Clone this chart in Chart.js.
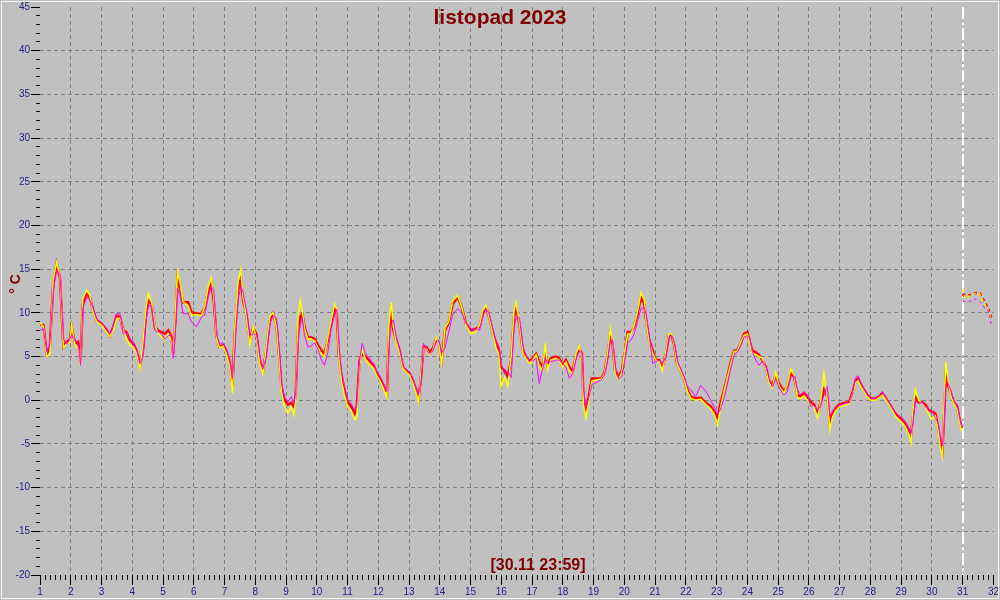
<!DOCTYPE html>
<html>
<head>
<meta charset="utf-8">
<script src="https://cdn.jsdelivr.net/npm/chart.js@4.4.1/dist/chart.umd.min.js"></script>
<style>
  body { margin: 0; background: #c0c0c0; }
  #wrap { position: relative; width: 1000px; height: 600px; background: #c0c0c0; overflow: hidden; }
  #frame { position: absolute; left: 1px; top: 1px; width: 996px; height: 596px; border: 1px solid #f4f4f4; pointer-events: none; }
  .lbl { position: absolute; color: #800000; font-family: "Liberation Sans", Arial, sans-serif; font-weight: bold; white-space: nowrap; }
  #title { left: 0; top: 6px; width: 1000px; text-align: center; font-size: 21px; line-height: 21px; }
  #unit { left: -5px; top: 276px; width: 40px; height: 16px; text-align: center; font-size: 14px; line-height: 16px; transform: rotate(-90deg); }
  #stamp { left: 438px; top: 557px; width: 200px; text-align: center; font-size: 16px; line-height: 16px; }
</style>
</head>
<body>
<div id="wrap">
  <canvas id="tempChart" width="1000" height="600"></canvas>
  <div id="frame"></div>
  <div class="lbl" id="title">listopad 2023</div>
  <div class="lbl" id="unit">° C</div>
  <div class="lbl" id="stamp">[30.11 23:59]</div>
</div>
<script>
// --- data: day of month, three sensors (red / yellow / magenta) ---
const days = [
  1.00,1.11,1.22,1.32,1.43,1.54,1.65,1.76,1.87,1.97,
  2.03,2.14,2.24,2.32,2.39,2.52,2.62,2.73,2.84,3.00,
  3.17,3.27,3.38,3.49,3.60,3.71,3.81,3.92,4.03,4.14,
  4.25,4.35,4.44,4.52,4.63,4.73,4.84,4.95,5.06,5.17,
  5.28,5.33,5.41,5.47,5.55,5.65,5.82,5.92,6.09,6.25,
  6.36,6.47,6.57,6.65,6.74,6.84,6.95,7.06,7.17,7.26,
  7.33,7.44,7.53,7.60,7.71,7.82,7.93,8.04,8.14,8.25,
  8.36,8.47,8.58,8.69,8.79,
  8.85,8.95,9.06,9.17,9.25,9.31,9.39,9.46,9.53,9.60,
  9.71,9.82,9.93,10.04,10.15,10.25,10.36,10.47,10.58,10.65,
  10.72,10.80,10.90,11.01,11.12,11.23,11.30,11.39,11.47,11.58,
  11.69,11.85,11.95,12.06,12.17,12.28,12.34,12.42,12.49,12.58,
  12.69,12.80,12.91,13.01,13.12,13.23,13.31,13.39,13.47,13.56,
  13.66,13.77,13.88,13.97,14.06,14.17,14.29,14.42,14.58,14.72,
  14.85,15.01,15.17,15.29,15.39,15.50,15.61,15.72,15.83,15.92,
  15.99,16.10,16.21,16.32,16.41,16.48,16.59,16.70,16.80,16.91,
  17.02,17.13,17.23,17.34,17.43,17.50,17.61,17.77,17.88,17.99,
  18.10,18.21,18.32,18.42,18.53,18.62,18.67,18.75,18.84,18.94,
  19.07,19.24,19.35,19.45,19.54,19.61,19.70,19.81,19.92,20.03,
  20.11,20.22,20.32,20.43,20.54,20.65,20.72,20.81,20.92,21.02,
  21.13,21.24,21.35,21.45,21.54,21.62,21.72,21.83,21.94,22.05,
  22.16,22.32,22.48,22.65,22.81,22.92,23.03,23.13,23.24,23.35,
  23.46,23.57,23.67,23.78,23.89,24.00,24.08,24.16,24.27,24.38,
  24.49,24.60,24.70,24.81,24.92,25.03,
  25.19,25.30,25.41,25.52,25.63,25.73,25.84,25.95,26.06,26.17,
  26.28,26.38,26.49,26.60,26.68,26.76,26.87,26.98,27.14,27.31,
  27.41,27.52,27.60,27.68,27.79,27.90,28.01,28.17,28.28,28.39,
  28.47,28.60,28.70,28.81,28.92,29.03,29.13,29.24,29.32,29.38,
  29.46,29.57,29.68,29.79,29.89,30.00,30.11,30.20,30.27,30.34,
  30.39,30.45,30.52,30.61,30.71,30.82,30.90,30.97,
  30.99,
  31.00,31.07,31.20,31.29,31.45,31.56,31.64,31.72,31.83,31.89,31.94
];

const tempRed = [
  8.7,8.6,5.3,6.1,13.3,15.6,14.0,6.1,6.7,6.9,
  8.4,6.5,6.7,4.4,11.0,12.2,11.8,10.3,9.1,8.75,
  8.0,7.4,8.4,9.7,9.5,8.0,7.8,6.9,6.5,5.7,
  4.0,5.7,9.5,11.4,11.0,8.4,8.0,7.8,7.6,8.0,
  7.2,5.3,9.5,14.0,12.9,11.2,11.2,10.1,9.9,9.9,
  10.6,12.5,13.5,11.4,7.2,6.1,6.3,5.7,4.2,1.6,
  7.6,12.5,14.0,11.4,9.9,6.9,8.2,7.6,4.6,3.4,
  5.7,9.1,9.9,8.6,4.5,
  1.6,0.0,-0.5,-0.3,-0.7,0.4,8.0,9.5,9.9,8.4,
  7.2,7.2,7.0,6.3,5.7,5.3,6.9,8.75,10.6,9.9,
  5.0,2.7,1.2,-0.3,-0.7,-1.5,-0.7,4.6,5.3,5.0,
  4.6,4.0,3.1,2.5,1.7,0.8,7.2,9.9,8.0,6.9,
  5.7,3.8,3.4,3.1,2.3,1.2,0.2,2.7,6.1,6.1,
  5.5,5.9,7.0,6.5,4.6,8.0,8.9,11.0,11.8,10.6,
  8.75,8.0,8.2,8.4,9.9,10.6,9.5,7.8,6.5,5.7,
  3.8,3.4,2.7,4.6,9.5,10.5,8.75,5.7,5.0,4.4,
  4.8,5.3,4.4,3.8,5.5,4.0,4.8,5.0,4.8,4.0,
  4.6,3.8,3.3,5.0,5.9,5.3,0.4,-1.1,0.4,2.5,
  2.5,2.5,3.1,5.0,7.6,6.5,3.4,2.7,3.4,5.7,
  7.8,7.8,8.4,9.9,11.8,11.0,8.75,6.9,5.7,4.6,
  4.6,3.8,5.3,7.4,7.4,6.3,4.2,3.4,2.5,1.2,
  0.4,0.2,0.3,-0.3,-0.7,-1.3,-2.0,-0.3,1.2,2.7,
  4.4,5.7,5.7,6.5,7.6,7.8,6.7,5.7,5.5,5.2,
  4.6,3.8,2.3,1.7,2.9,1.9,
  1.0,1.6,3.1,2.7,0.6,0.4,0.8,0.4,-0.2,-0.5,
  -1.5,-0.3,1.2,0.4,-2.6,-1.5,-0.9,-0.5,-0.3,-0.2,
  0.8,2.3,2.5,1.9,1.2,0.6,0.2,0.2,0.4,0.8,
  0.4,-0.3,-0.9,-1.5,-1.9,-2.2,-2.6,-3.4,-4.1,-1.9,
  0.4,-0.2,-0.2,-0.5,-1.1,-1.3,-1.5,-3.0,-4.9,-5.8,
  -2.2,2.7,1.7,0.8,-0.2,-0.7,-2.2,-3.2,
  null,
  11.9,12.1,12.0,12.1,12.3,12.2,11.7,11.2,10.5,9.8,9.45
];

const tempYellow = [
  8.9,8.4,5.0,5.2,13.8,15.8,14.2,6.0,6.5,6.6,
  8.6,6.2,6.0,4.0,11.6,12.6,12.0,10.0,9.0,8.6,
  7.8,7.3,8.0,9.3,9.4,8.0,7.0,6.3,6.1,5.4,
  3.6,6.5,10.4,12.2,11.2,8.6,7.7,7.2,7.0,7.6,
  6.8,5.0,10.5,14.7,13.5,11.3,10.8,9.7,9.8,9.7,
  10.8,13.0,14.0,11.8,7.0,6.0,6.2,5.3,3.8,0.8,
  8.0,13.5,15.0,11.8,9.6,6.4,8.4,7.2,4.2,3.0,
  6.2,9.6,10.0,8.4,4.0,
  1.0,-0.7,-1.5,-0.8,-1.7,-0.2,9.5,11.4,10.2,8.2,
  7.0,7.0,6.8,6.0,5.3,5.0,7.2,9.2,11.0,10.4,
  4.6,2.2,0.6,-0.8,-1.2,-2.2,-2.0,4.0,5.8,4.7,
  4.2,3.6,2.8,2.2,1.3,0.4,8.5,11.2,8.4,6.6,
  5.4,3.6,3.2,2.9,2.0,0.8,-0.2,3.2,6.0,5.9,
  5.2,5.7,7.2,6.3,4.2,8.3,9.0,11.4,12.0,10.6,
  8.6,7.6,7.8,8.6,10.2,10.9,9.4,7.6,6.0,5.2,
  1.6,2.6,1.6,5.0,10.2,11.2,8.8,5.4,4.8,4.2,
  4.6,5.2,4.0,3.4,6.5,3.5,4.6,4.8,4.6,3.8,
  4.4,3.4,3.0,5.2,6.2,5.0,-0.5,-2.0,-0.2,2.2,
  2.3,2.4,3.0,5.2,8.2,6.8,3.0,2.4,3.2,6.0,
  7.6,7.6,8.6,10.2,12.3,11.5,8.5,6.6,5.4,4.6,
  4.4,3.4,5.6,7.6,7.6,6.3,4.1,3.3,2.4,1.0,
  0.2,0.0,0.1,-0.5,-1.0,-1.6,-2.8,-0.8,1.0,2.6,
  4.2,5.6,5.6,6.6,7.4,7.6,6.4,5.4,5.2,5.0,
  4.8,3.6,2.0,1.4,3.2,1.6,
  0.8,1.8,3.6,2.8,0.3,0.2,0.5,0.0,-0.5,-0.8,
  -2.0,-0.2,3.1,0.0,-3.4,-2.0,-1.2,-0.8,-0.6,-0.4,
  0.6,2.0,2.2,1.6,1.0,0.4,0.0,0.0,0.3,0.6,
  0.2,-0.5,-1.1,-1.8,-2.2,-2.6,-3.0,-3.8,-4.9,-1.2,
  1.2,0.0,-0.4,-0.8,-1.6,-2.2,-1.8,-3.4,-5.4,-6.4,
  -1.0,4.4,2.4,0.5,-0.4,-1.0,-2.6,-3.6,
  null,
  12.7,11.7,11.9,12.0,12.3,12.1,11.5,11.0,10.3,9.6,9.2
];

const tempMagenta = [
  8.0,8.2,5.6,6.3,12.5,14.8,14.5,7.0,6.4,7.0,
  7.5,6.8,6.5,4.0,10.5,11.8,11.5,10.5,9.3,8.9,
  8.2,7.6,8.6,9.9,9.9,7.6,7.8,6.9,6.6,5.8,
  4.2,5.0,9.0,10.8,10.8,8.0,7.8,7.6,7.0,7.4,
  7.4,4.8,8.5,12.8,12.0,9.9,9.9,9.0,8.4,9.5,
  9.8,11.8,13.0,12.5,7.5,6.4,6.6,5.8,4.8,2.5,
  5.5,11.5,13.0,12.4,10.4,7.4,7.6,7.5,5.2,3.6,
  5.0,8.7,9.7,9.4,5.5,
  2.0,0.4,-0.2,0.4,-0.4,0.6,6.5,8.6,9.5,7.4,
  6.1,6.2,6.6,5.8,4.6,4.0,5.5,8.2,9.8,10.4,
  6.4,3.4,1.6,0.0,-0.4,-1.2,-0.6,4.4,6.5,5.4,
  4.9,4.0,3.3,2.7,1.9,1.0,6.0,8.8,9.2,7.3,
  5.9,4.0,3.5,3.2,2.6,1.4,0.6,2.2,6.5,5.8,
  5.3,5.6,6.8,6.8,5.4,6.0,7.8,9.8,10.5,10.0,
  8.8,8.0,8.2,8.0,9.4,10.5,9.8,8.2,6.8,6.2,
  4.2,3.0,3.4,2.6,8.0,9.6,9.4,6.2,5.2,4.6,
  4.5,4.8,1.9,3.6,4.8,4.2,4.4,4.6,4.6,4.2,
  3.8,2.5,3.0,4.6,5.6,5.5,1.2,-0.8,0.2,1.8,
  2.0,2.3,2.9,4.5,6.8,6.9,4.0,2.4,2.8,4.8,
  6.6,6.9,7.6,9.0,10.5,10.6,9.6,7.4,4.2,4.4,
  4.6,4.2,5.0,7.2,7.4,6.6,4.5,3.6,2.7,1.6,
  1.2,0.4,1.7,1.0,0.0,-0.8,-1.6,-1.0,0.2,1.8,
  3.6,5.2,5.5,6.2,7.2,7.4,7.0,5.6,4.6,4.0,
  4.5,3.8,2.6,1.5,2.4,1.4,
  0.6,1.0,2.6,2.8,1.2,0.6,1.0,0.6,-0.7,-0.6,
  -1.2,-0.6,0.6,1.6,-1.8,-1.4,-0.8,-0.6,-0.4,-0.3,
  0.6,2.6,2.8,2.0,1.3,0.6,0.2,0.2,0.5,1.0,
  0.5,-0.2,-0.8,-1.4,-1.8,-2.0,-2.5,-3.1,-3.8,-2.6,
  0.0,-0.4,-0.2,-0.8,-1.0,-1.2,-2.0,-2.6,-4.0,-5.2,
  -3.0,1.8,2.0,1.2,0.0,-0.6,-2.0,-3.0,
  null,
  11.3,11.3,11.3,11.4,11.6,11.2,11.0,10.5,10.3,9.3,8.5
];

const nowDay = 31;          // white marker line
const dayMin = 1, dayMax = 32;
const tempMin = -20, tempMax = 45;

// ============================================
// CHART
// ============================================

const TICK_COLOR = '#1e1e86';
const TICK_FONT = { family: '"Liberation Sans", Arial, sans-serif', size: 10 };

function series(values) {
    return days.map((d, i) => ({ x: d, y: values[i] }));
}

function lineSet(values, color, width, order) {
    return {
        data: series(values),
        borderColor: color,
        borderWidth: width,
        pointRadius: 0,
        tension: 0,
        spanGaps: false,
        order: order,
        segment: {
            borderDash: c => c.p0.parsed.x >= nowDay ? [3, 3] : undefined
        }
    };
}

// white dash-dot line at "now"
const nowLine = {
    id: 'nowLine',
    beforeDatasetsDraw(chart) {
        const { ctx, chartArea, scales } = chart;
        const x = Math.round(scales.x.getPixelForValue(nowDay));
        ctx.save();
        ctx.strokeStyle = '#ffffff';
        ctx.lineWidth = 2;
        ctx.setLineDash([12, 3, 3, 3]);
        ctx.beginPath();
        ctx.moveTo(x, chartArea.top);
        ctx.lineTo(x, chartArea.bottom);
        ctx.stroke();
        ctx.restore();
    }
};

const edge = (v, a, b) => v === a || v === b;

new Chart(document.getElementById('tempChart').getContext('2d'), {
    type: 'line',
    data: {
        datasets: [
            lineSet(tempRed, '#ff0000', 2.5, 3),
            lineSet(tempYellow, '#ffff00', 1.5, 2),
            lineSet(tempMagenta, '#ff00ff', 1, 1)
        ]
    },
    options: {
        responsive: false,
        animation: false,
        devicePixelRatio: 1,
        layout: { padding: { top: 5, right: 5, left: 0, bottom: 0 } },
        plugins: { legend: { display: false }, tooltip: { enabled: false } },
        scales: {
            x: {
                type: 'linear', position: 'bottom', weight: 1,
                min: dayMin, max: dayMax,
                ticks: { stepSize: 1, autoSkip: false, maxRotation: 0, color: TICK_COLOR, font: TICK_FONT, padding: 1 },
                grid: {
                    color: c => edge(c.tick.value, dayMin, dayMax) ? 'rgba(0,0,0,0)' : '#808080',
                    tickColor: '#000', tickLength: 10, lineWidth: 1
                },
                border: { display: false, dash: [4, 3] },
                afterFit: s => { s.height = 25; }
            },
            xMinor: {
                type: 'linear', position: 'bottom', weight: 0,
                min: 0, max: (dayMax - dayMin) * 24,
                ticks: { stepSize: 4, display: false },
                grid: { drawOnChartArea: false, tickLength: 5, tickColor: '#000' },
                border: { display: false },
                afterFit: s => { s.height = 0; }
            },
            y: {
                position: 'left', weight: 1,
                min: tempMin, max: tempMax,
                ticks: { stepSize: 5, color: TICK_COLOR, font: TICK_FONT, padding: 1 },
                grid: {
                    color: c => edge(c.tick.value, tempMin, tempMax) ? 'rgba(0,0,0,0)' : '#808080',
                    tickColor: '#000', tickLength: 9, lineWidth: 1
                },
                border: { display: false, dash: [4, 3] },
                afterFit: s => { s.width = 40; }
            },
            yMinor: {
                position: 'left', weight: 0,
                min: tempMin, max: tempMax,
                ticks: { stepSize: 1, display: false },
                grid: { drawOnChartArea: false, tickLength: 4, tickColor: '#000' },
                border: { display: false },
                afterFit: s => { s.width = 0; }
            }
        }
    },
    plugins: [nowLine]
});
</script>
</body>
</html>
